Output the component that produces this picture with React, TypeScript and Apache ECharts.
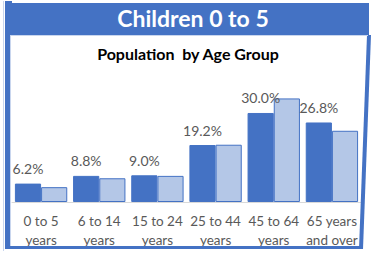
import React, { useEffect, useRef } from "react";
import * as echarts from "echarts";

const categories = ["0 to 5\nyears", "6 to 14\nyears", "15 to 24\nyears", "25 to 44\nyears", "45 to 64\nyears", "65 years\nand over"];
const children0to5 = [6.2, 8.8, 9.0, 19.2, 30.0, 26.8];
const totalPopulation = [5.0, 8.0, 8.8, 19.3, 34.9, 24.0];
const headerTitle = "Children 0 to 5";
const chartTitle = "Population  by Age Group";

const BLUE = "#4472c4";
const LIGHT = "#b4c7e7";
const GRAY = "#595959";
const FONT = "Lato, 'Open Sans', sans-serif";

export default function App() {
  const ref = useRef<HTMLDivElement>(null);
  useEffect(() => {
    if (!ref.current) return;
    const chart = echarts.init(ref.current, null, { renderer: "svg" });
    chart.setOption({
      animation: false,
      backgroundColor: "#ffffff",
      graphic: [
        { type: "rect", shape: { x: 5, y: 3, width: 364, height: 32 }, style: { fill: BLUE }, z: 1 },
        { type: "rect", shape: { x: 5, y: 1, width: 7, height: 3 }, style: { fill: BLUE }, z: 1 },
        { type: "rect", shape: { x: 5, y: 1, width: 5, height: 248 }, style: { fill: BLUE }, z: 1 },
        { type: "polygon", shape: { points: [[367, 35], [371, 35], [363, 249], [359, 249]] }, style: { fill: BLUE }, z: 1 },
        { type: "rect", shape: { x: 5, y: 246, width: 357, height: 3 }, style: { fill: BLUE }, z: 1 },
        { type: "rect", shape: { x: 10, y: 35, width: 358, height: 1 }, style: { fill: "#c9d6ee" }, z: 2 },
        { type: "rect", shape: { x: 10, y: 35, width: 1, height: 211 }, style: { fill: "#c9d6ee" }, z: 2 },
        { type: "rect", shape: { x: 3, y: 1, width: 1, height: 250 }, style: { fill: "#c9d6ee" }, z: 2 },
        {
          type: "text", x: 193, y: 18, z: 3,
          style: { text: headerTitle, fill: "#ffffff", font: `bold 23px ${FONT}`, align: "center", verticalAlign: "middle" },
        },
        {
          type: "text", x: 188, y: 53, z: 3,
          style: { text: chartTitle, fill: "#000000", font: `bold 16px ${FONT}`, align: "center", verticalAlign: "middle" },
        },
      ],
      grid: { left: 12, right: 10, top: 83.3, bottom: 51, containLabel: false },
      xAxis: {
        type: "category",
        data: categories,
        axisLine: { show: true, lineStyle: { color: "#d9d9d9", width: 1 } },
        axisTick: { show: false },
        axisLabel: { interval: 0, color: GRAY, fontFamily: FONT, fontSize: 13.5, lineHeight: 19, margin: 9 },
      },
      yAxis: { type: "value", min: 0, max: 40, show: false, splitLine: { show: false } },
      series: [
        {
          type: "bar",
          data: children0to5,
          barGap: "0%",
          barCategoryGap: "10%",
          itemStyle: { color: BLUE, borderColor: BLUE, borderWidth: 1 },
          label: {
            show: true, position: "top", distance: 8, color: GRAY, fontFamily: FONT, fontSize: 14,
            formatter: (p: any) => Number(p.value).toFixed(1) + "%",
          },
        },
        {
          type: "bar",
          data: totalPopulation,
          barGap: "0%",
          barCategoryGap: "10%",
          itemStyle: { color: LIGHT, borderColor: BLUE, borderWidth: 1 },
        },
      ],
    });
    return () => chart.dispose();
  }, []);
  return <div ref={ref} style={{ position: "fixed", left: 0, top: 0, width: 371, height: 253 }} />;
}
